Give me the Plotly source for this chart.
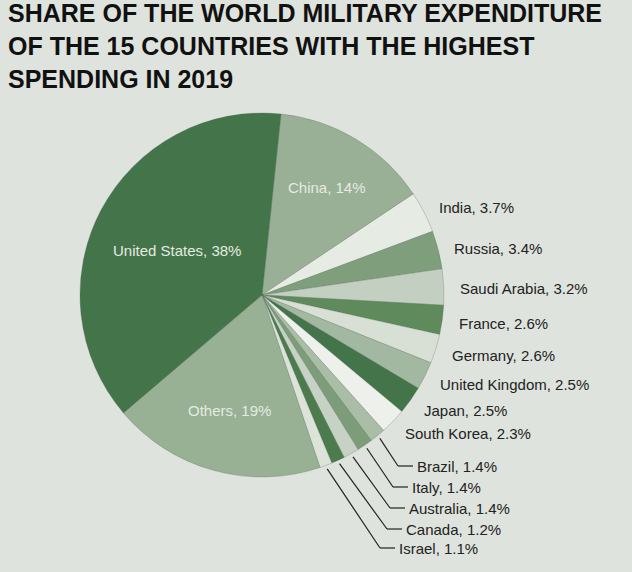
import numpy as np
import plotly.graph_objects as go

# dane: udział w światowych wydatkach wojskowych 2019 (%)
countries = ["China", "India", "Russia", "Saudi Arabia", "France", "Germany",
             "United Kingdom", "Japan", "South Korea", "Brazil", "Italy",
             "Australia", "Canada", "Israel", "Others", "United States"]
shares = [14, 3.7, 3.4, 3.2, 2.6, 2.6, 2.5, 2.5, 2.3, 1.4, 1.4, 1.4, 1.2, 1.1,
          19, 38]

title_lines = ["SHARE OF THE WORLD MILITARY EXPENDITURE",
               "OF THE 15 COUNTRIES WITH THE HIGHEST",
               "SPENDING IN 2019"]

SLICE_COLORS = ["#9ab096", "#e6ebe4", "#7f9f7c", "#c3cfc1", "#5e8a5c",
                "#d8e0d6", "#a3b8a0", "#44744a", "#edf0eb", "#aabda7",
                "#7d9d7a", "#c6d2c4", "#4c7c4e", "#dce4da", "#98b094",
                "#44744a"]
BG = "#dfe3dd"
FONT = "Liberation Sans, Arial, sans-serif"

W, H = 632, 572
CX, CY, R = 262, 295, 182
ROTATION = 6

INSIDE = {"United States": 0.53, "China": 0.69, "Others": 0.66}
LEADER = ["Brazil", "Italy", "Australia", "Canada", "Israel"]
ELBOW_Y = [466, 487, 508, 529, 548]
ELBOW_X = [398, 393, 390, 387, 380]


def px(x):
    return x / W


def py(y):
    return 1 - y / H


def point(angle_deg, radius):
    a = np.radians(angle_deg)
    return CX + radius * np.sin(a), CY - radius * np.cos(a)


total = sum(shares)
cum = np.cumsum([0] + shares[:-1])
mids = [ROTATION + (c + v / 2) / total * 360 for c, v in zip(cum, shares)]

fig = go.Figure(go.Pie(
    labels=countries,
    values=shares,
    sort=False,
    direction="clockwise",
    rotation=ROTATION,
    marker=dict(colors=SLICE_COLORS,
                line=dict(color="rgba(80,100,80,0.45)", width=0.6)),
    textinfo="none",
    hoverinfo="label+value",
    showlegend=False,
    domain=dict(x=[px(CX - R), px(CX + R)], y=[py(CY + R), py(CY - R)]),
))

annotations = []
shapes = []
for name, val, mid in zip(countries, shares, mids):
    label = f"{name}, {val:g}%"
    if name in INSIDE:
        x, y = point(mid, INSIDE[name] * R)
        annotations.append(dict(x=px(x), y=py(y), text=label, showarrow=False,
                                xanchor="center", yanchor="middle",
                                font=dict(family=FONT, size=15, color="#e4ebe1")))
    elif name in LEADER:
        i = LEADER.index(name)
        x0, y0 = point(mid, 1.02 * R)
        ex, ey = ELBOW_X[i], ELBOW_Y[i]
        shapes.append(dict(type="line", xref="paper", yref="paper",
                           x0=px(x0), y0=py(y0), x1=px(ex), y1=py(ey),
                           line=dict(color="#222", width=1.2)))
        shapes.append(dict(type="line", xref="paper", yref="paper",
                           x0=px(ex), y0=py(ey), x1=px(ex + 15), y1=py(ey),
                           line=dict(color="#222", width=1.2)))
        annotations.append(dict(x=px(ex + 17), y=py(ey), text=label,
                                showarrow=False, xanchor="left",
                                yanchor="middle",
                                font=dict(family=FONT, size=15, color="#222")))
    else:
        x, y = point(mid, 1.08 * R)
        annotations.append(dict(x=px(x), y=py(y + 2), text=label,
                                showarrow=False, xanchor="left",
                                yanchor="middle",
                                font=dict(family=FONT, size=15, color="#222")))

for i, line in enumerate(title_lines):
    annotations.append(dict(x=px(6), y=py(13 + 33 * i), text=f"<b>{line}</b>",
                            showarrow=False, xanchor="left", yanchor="middle",
                            font=dict(family=FONT, size=25, color="#111")))

fig.update_layout(
    width=W, height=H,
    margin=dict(l=0, r=0, t=0, b=0),
    paper_bgcolor=BG,
    plot_bgcolor=BG,
    annotations=annotations,
    shapes=shapes,
)

# bez domyślnego marginesu strony, żeby wykres zajął całe okno
fig.write_html("out.html", config={"displayModeBar": False},
               post_script="document.body.style.margin='0';")
